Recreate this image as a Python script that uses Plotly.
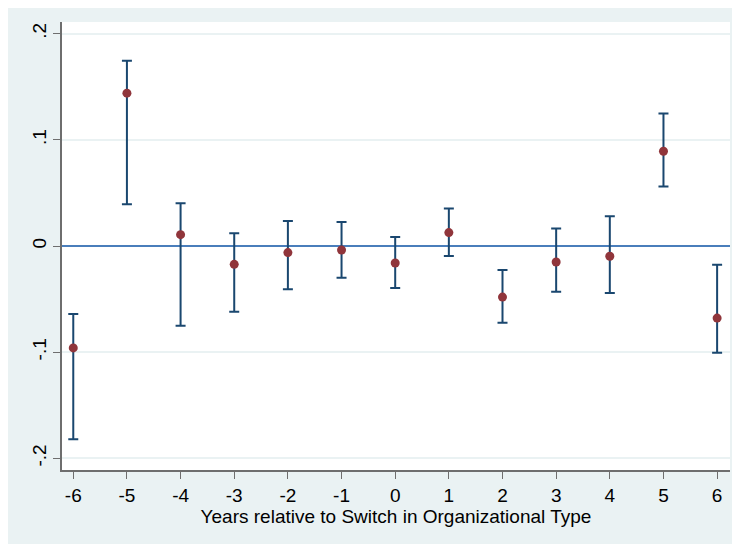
import plotly.graph_objects as go

years = [-6, -5, -4, -3, -2, -1, 0, 1, 2, 3, 4, 5, 6]
coef = [-0.096, 0.144, 0.0107, -0.0173, -0.0062, -0.0038, -0.016, 0.0126, -0.0481, -0.0151, -0.0097, 0.0893, -0.0679]
ci_high = [-0.064, 0.1745, 0.0403, 0.012, 0.0236, 0.0226, 0.0085, 0.0353, -0.0226, 0.0164, 0.028, 0.1249, -0.0176]
ci_low = [-0.182, 0.0393, -0.0751, -0.0619, -0.0408, -0.0298, -0.0396, -0.0094, -0.0723, -0.043, -0.0443, 0.056, -0.1006]

y_tickvals = [-0.2, -0.1, 0, 0.1, 0.2]
y_ticktext = ["-.2", "-.1", "0", ".1", ".2"]
x_tickvals = years
x_title = "Years relative to Switch in Organizational Type"

err_plus = [h - c for h, c in zip(ci_high, coef)]
err_minus = [c - l for c, l in zip(coef, ci_low)]

fig = go.Figure()
fig.add_trace(go.Scatter(
    x=years, y=coef, mode="markers",
    marker=dict(color="#90353B", size=9),
    error_y=dict(type="data", array=err_plus, arrayminus=err_minus,
                 color="#1A476F", thickness=2, width=5, symmetric=False),
    showlegend=False,
))

W, H = 732, 536
ml, mr, mt, mb = 54, 10, 14, 74

fig.update_layout(
    width=W, height=H,
    margin=dict(l=ml, r=mr, t=mt, b=mb, pad=0),
    paper_bgcolor="#EAF2F3",
    plot_bgcolor="white",
    font=dict(family="Liberation Sans, Arial, sans-serif", size=19, color="black"),
    xaxis=dict(
        range=[-6.21, 6.24], tickvals=x_tickvals, ticktext=[str(v) for v in x_tickvals],
        showgrid=False, zeroline=False,
        showline=True, linecolor="#6E6E6E", linewidth=1.5,
        ticks="outside", ticklen=7, tickcolor="#6E6E6E", tickwidth=1,
        title=dict(text=x_title, standoff=0, font=dict(size=19)),
    ),
    yaxis=dict(
        range=[-0.211, 0.211], tickvals=y_tickvals, ticktext=y_ticktext,
        tickangle=-90,
        showgrid=True, gridcolor="#EAF2F3", gridwidth=2,
        zeroline=True, zerolinecolor="#4A7EBB", zerolinewidth=1.5,
        showline=True, linecolor="#6E6E6E", linewidth=1.5,
        ticks="outside", ticklen=7, tickcolor="#6E6E6E", tickwidth=1,
    ),
)

fig.write_html("out.html")
